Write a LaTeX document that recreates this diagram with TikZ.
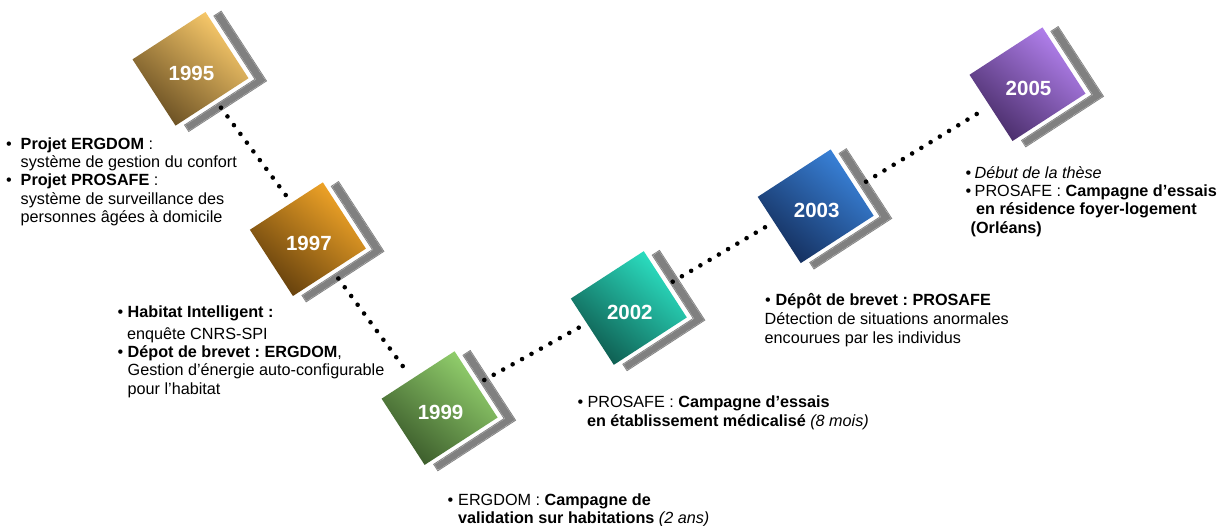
\documentclass[tikz,border=0pt]{standalone}
\usepackage{fontspec}
\setmainfont{Liberation Sans}
\usetikzlibrary{calc}
\frenchspacing
\definecolor{bandgray}{RGB}{128,128,128}
\definecolor{dA}{RGB}{104,78,34}\definecolor{lA}{RGB}{252,204,108}
\definecolor{dB}{RGB}{98,62,12}\definecolor{lB}{RGB}{243,166,40}
\definecolor{dC}{RGB}{58,90,42}\definecolor{lC}{RGB}{148,210,110}
\definecolor{dD}{RGB}{14,90,78}\definecolor{lD}{RGB}{44,226,196}
\definecolor{dE}{RGB}{20,46,92}\definecolor{lE}{RGB}{58,132,220}
\definecolor{dF}{RGB}{72,44,104}\definecolor{lF}{RGB}{180,130,240}
\tikzset{
  yeartext/.style={text=white, font=\fontsize{20.5}{24}\selectfont\bfseries, inner sep=0pt},
  note/.style={inner sep=0pt, anchor=base west, font=\fontsize{16.2}{18.3}\selectfont},
  band/.style={fill=bandgray},
  bandline/.style={draw=white!70!bandgray, line width=0.3pt, dash pattern=on 0.7pt off 0.7pt},
  dotfill/.style={fill=black}
}
\newcommand\yearsq[6]{%
  \begin{scope}[shift={(#2,#3)}, rotate=33]
    \fill[band] (48pt,32pt) -- (57.5pt,32pt) -- (57.5pt,-52pt) -- (-36pt,-52pt) -- (-36pt,-43.5pt) -- (48pt,-43.5pt) -- cycle;
    \draw[bandline] (48.9pt,31.1pt) -- (56.6pt,31.1pt) -- (56.6pt,-51.1pt) -- (-35.1pt,-51.1pt) -- (-35.1pt,-44.4pt) -- (48.9pt,-44.4pt) -- cycle;
    \shade[top color=#5, bottom color=#4, shading angle=-40] (-43.5pt,-39.5pt) rectangle (43.5pt,39.5pt);
  \end{scope}
  \node[yeartext] (#1) at ($(#2,#3)+(1,4.5)$) {#6};
}
\newcommand\dotline[3]{\foreach \t in {0,...,#3}{\fill[dotfill] ($(#1)!{\t/#3}!(#2)$) circle (2.3pt);}}
\newcommand\bl[2]{\hbox{\makebox[#1][l]{•}#2}}
\newcommand\cl[2]{\hbox{\hspace*{#1}#2}}
\begin{document}
\begin{tikzpicture}[x=1pt,y=-1pt]
\useasboundingbox (0,0) rectangle (1226,526);
\fill[white] (0,0) rectangle (1226,526);
% connectors' end points
\coordinate (c1s) at (221,107.7);   \coordinate (c1e) at (285.7,195);
\coordinate (c2s) at (338.3,278.5); \coordinate (c2e) at (402.7,366);
\coordinate (c3s) at (484.3,380);   \coordinate (c3e) at (578.7,327.7);
\coordinate (c4s) at (672.7,281.7); \coordinate (c4e) at (765,227.3);
\coordinate (c5s) at (866,181.7);   \coordinate (c5e) at (976.7,114);
% squares
\yearsq{y1995}{190.5}{68.8}{dA}{lA}{1995}
\yearsq{y1997}{307.9}{239.2}{dB}{lB}{1997}
\yearsq{y1999}{439.6}{408.1}{dC}{lC}{1999}
\yearsq{y2002}{628.8}{308}{dD}{lD}{2002}
\yearsq{y2003}{815.7}{206.3}{dE}{lE}{2003}
\yearsq{y2005}{1027.5}{84.2}{dF}{lF}{2005}
% dotted connectors
\dotline{c1s}{c1e}{10}
\dotline{c2s}{c2e}{10}
\dotline{c3s}{c3e}{10}
\dotline{c4s}{c4e}{10}
\dotline{c5s}{c5e}{12}
% notes
\node[note] (nA) at (6,149.3) {\vtop{%
  \bl{14.5pt}{\textbf{Projet ERGDOM} :}
  \cl{14.5pt}{système de gestion du confort}
  \bl{14.5pt}{\textbf{Projet PROSAFE} :}
  \cl{14.5pt}{système de surveillance des}
  \cl{14.5pt}{personnes âgées à domicile}}};
\node[note] (nB) at (117.5,317.3) {\vtop{%
  \bl{10pt}{\textbf{Habitat Intelligent :}}
  \vskip 3.7pt
  \cl{9.5pt}{enquête CNRS-SPI}
  \bl{10pt}{\textbf{Dépot de brevet : ERGDOM},}
  \cl{10pt}{Gestion d’énergie auto-configurable}
  \cl{10pt}{pour l’habitat}}};
\node[note] (nC) at (447.5,505) {\vtop{%
  \bl{10.5pt}{ERGDOM : \textbf{Campagne de}}
  \cl{10.5pt}{\textbf{validation sur habitations} \textit{(2 ans)}}}};
\node[note] (nD) at (577.3,407.7) {\vtop{%
  \bl{10pt}{PROSAFE : \textbf{Campagne d’essais}}
  \cl{9.5pt}{\textbf{en établissement médicalisé} \textit{(8 mois)}}}};
\node[note] (nE) at (765,305.7) {\vtop{\baselineskip=19pt
  \bl{10.5pt}{\textbf{Dépôt de brevet : PROSAFE}}
  \cl{-0.5pt}{Détection de situations anormales}
  \cl{-0.5pt}{encourues par les individus}}};
\node[note] (nF) at (965.5,178.3) {\vtop{%
  \bl{9pt}{\textit{Début de la thèse}}
  \bl{9pt}{PROSAFE : \textbf{Campagne d’essais}}
  \cl{10.5pt}{\textbf{en résidence foyer-logement}}
  \cl{5pt}{\textbf{(Orléans)}}}};
\end{tikzpicture}
\end{document}
